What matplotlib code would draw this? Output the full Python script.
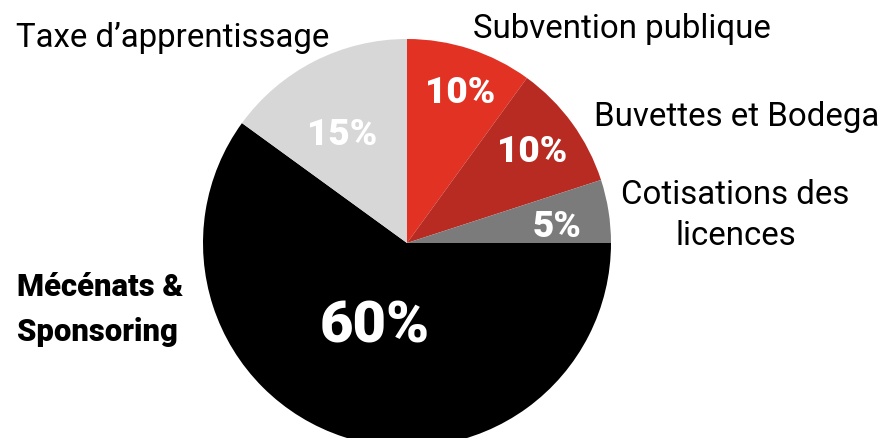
import matplotlib
matplotlib.use('Agg')
import matplotlib.pyplot as plt

W, H = 887, 438

labels = ['Subvention publique', 'Buvettes et Bodega', 'Cotisations des\nlicences',
          'Mécénats &\nSponsoring', "Taxe d\u2019apprentissage"]
values = [10, 10, 5, 60, 15]
pct_labels = ['10%', '10%', '5%', '60%', '15%']
colors = ['#e23224', '#b72b22', '#7b7b7b', '#000000', '#d7d7d7']

fig = plt.figure(figsize=(W / 100, H / 100), dpi=100)
ax = fig.add_axes([0, 0, 1, 1])

# pie in pixel space (y up)
cx, cy, r = 407, H - 243, 204
ax.pie(values, colors=colors, startangle=90, counterclock=False,
       center=(cx, cy), radius=r, frame=True,
       wedgeprops=dict(linewidth=0))
ax.set_xlim(0, W)
ax.set_ylim(0, H)
ax.set_aspect('auto')
ax.axis('off')

def px(x, y):
    return x, H - y

# percentages inside slices (pixel centre, size)
pct_pos = [(460, 93, 37), (532, 152, 37), (557, 227, 37), (375, 327, 58), (342, 135, 37)]
for t, (x, y, s) in zip(pct_labels, pct_pos):
    ax.text(*px(x, y), t, color='white', fontsize=s * 0.72, fontweight='heavy',
            family='Roboto', ha='center', va='center')

# outside labels
fs = 33 * 0.72
ax.text(*px(622, 38), labels[0], fontsize=fs, family='Roboto', ha='center', va='baseline')
ax.text(*px(737, 126), labels[1], fontsize=fs, family='Roboto', ha='center', va='baseline')
ax.text(*px(735, 204), 'Cotisations des', fontsize=fs, family='Roboto', ha='center', va='baseline')
ax.text(*px(736, 245), 'licences', fontsize=fs, family='Roboto', ha='center', va='baseline')
ax.text(*px(173, 47), labels[4], fontsize=fs, family='Roboto', ha='center', va='baseline')
ax.text(*px(17, 296), 'Mécénats &', fontsize=31 * 0.72, family='Roboto', fontweight='heavy',
        ha='left', va='baseline')
ax.text(*px(17, 341), 'Sponsoring', fontsize=31 * 0.72, family='Roboto', fontweight='heavy',
        ha='left', va='baseline')

fig.savefig('out.png', dpi=100)
